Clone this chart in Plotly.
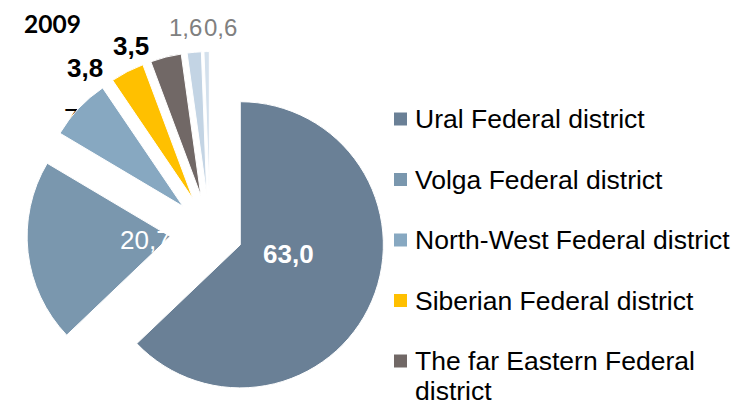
import math
import plotly.graph_objects as go

# ---- data ----
districts = [
    "Ural Federal district",
    "Volga Federal district",
    "North-West Federal district",
    "Siberian Federal district",
    "The far Eastern Federal district",
    "Southern Federal district",
    "North Caucasian Federal district",
]
legend_labels = [
    "Ural Federal district",
    "Volga Federal district",
    "North-West Federal district",
    "Siberian Federal district",
    "The far Eastern Federal<br>district",
]
shares = [63.0, 20.7, 7.0, 3.8, 3.5, 1.6, 0.6]
year_label = "2009"

# ---- styles ----
colors = ["#6A8096", "#7A97AE", "#87A8C1", "#FFC000", "#716866", "#C3D4E4", "#D3E0EC"]
pulls = [0.23, 0.28, 0.26, 0.26, 0.26, 0.26, 0.26]
# label placement relative to each slice's tip: (radius as fraction of r, angle nudge in deg)
lab_rad = [0.34, 0.175, 0.947, 1.185, 1.156, 1.175, 1.168]
lab_nudge = [-12.5, -1.5, -1.4, -12.2, -10.8, -2.1, 4.8]
lab_col = ["white", "white", "black", "black", "black", "#808080", "#808080"]
lab_size = [26, 26, 26, 26, 26, 24, 24]
lab_bold = [True, False, False, True, True, False, False]
lab_hidden = [False, False, True, False, False, False, False]  # drawn beneath the slices

# the page has an 8px body margin; coordinates below are given in window pixels
OFF = 8
W, H = 746, 407
dom_x = [0.02, 0.5216]
dom_y = [0.0, 0.90]
FONT = "Liberation Sans, Arial, sans-serif"


def px_x(p):
    return (p - OFF) / W


def px_y(p):
    return 1 - (p - OFF) / H


def fmt(v, b):
    s = f"{v:.1f}".replace(".", ",")
    return f"<b>{s}</b>" if b else s


fig = go.Figure()
fig.add_trace(go.Pie(
    labels=districts,
    values=shares,
    sort=False,
    direction="clockwise",
    rotation=0,
    pull=pulls,
    textinfo="none",
    marker=dict(colors=colors, line=dict(color="white", width=1)),
    domain=dict(x=dom_x, y=dom_y),
    showlegend=False,
    hovertemplate="%{label}: %{value}<extra></extra>",
))

# ---- data labels placed from the pie geometry (figure pixel space) ----
cx = W * (dom_x[0] + dom_x[1]) / 2
cy = H * (2 - dom_y[0] - dom_y[1]) / 2
r = min(W * (dom_x[1] - dom_x[0]), H * (dom_y[1] - dom_y[0])) / (2 + 2 * max(pulls))
total = sum(shares)
annotations, shapes = [], []
cum = 0.0
for i, v in enumerate(shares):
    mid = (cum + v / 2) / total * 360.0
    cum += v
    a = math.radians(mid)
    tipx = cx + pulls[i] * r * math.sin(a)
    tipy = cy - pulls[i] * r * math.cos(a)
    b = math.radians(mid + lab_nudge[i])
    fx = tipx + lab_rad[i] * r * math.sin(b)
    fy = tipy - lab_rad[i] * r * math.cos(b)
    font = dict(family=FONT, size=lab_size[i], color=lab_col[i])
    if lab_hidden[i]:
        shapes.append(dict(
            type="rect", xref="paper", yref="paper", layer="below",
            x0=(fx - 1) / W, x1=(fx + 1) / W, y0=1 - (fy + 1) / H, y1=1 - (fy - 1) / H,
            line=dict(width=0), fillcolor="rgba(0,0,0,0)",
            label=dict(text=fmt(v, lab_bold[i]), font=font, textposition="middle center"),
        ))
    else:
        annotations.append(dict(
            text=fmt(v, lab_bold[i]), xref="paper", yref="paper",
            x=fx / W, y=1 - fy / H, xanchor="center", yanchor="middle",
            showarrow=False, font=font,
        ))

# ---- manual legend (matches the wide row spacing of the original) ----
row0, step, line_gap = 119, 60.5, 29.5
for i, lab in enumerate(legend_labels):
    yc = row0 + i * step
    shapes.append(dict(
        type="rect", xref="paper", yref="paper",
        x0=px_x(394), x1=px_x(407),
        y0=px_y(yc + 6.5), y1=px_y(yc - 6.5),
        fillcolor=colors[i], line=dict(width=0),
    ))
    for k, line in enumerate(lab.split("<br>")):
        annotations.append(dict(
            text=line, xref="paper", yref="paper",
            x=px_x(413), y=px_y(yc + k * line_gap),
            xanchor="left", yanchor="middle", align="left",
            showarrow=False,
            font=dict(family=FONT, size=26.5, color="black"),
        ))

annotations.append(dict(
    text=f"<b>{year_label}</b>", xref="paper", yref="paper",
    x=px_x(22), y=px_y(24), xanchor="left", yanchor="middle",
    showarrow=False,
    font=dict(family="Lato, Open Sans, sans-serif", size=24.5, color="black"),
))

fig.update_layout(
    width=W, height=H,
    margin=dict(l=0, r=0, t=0, b=0, autoexpand=False),
    paper_bgcolor="white",
    plot_bgcolor="white",
    shapes=shapes,
    annotations=annotations,
)

fig.write_html("out.html")
